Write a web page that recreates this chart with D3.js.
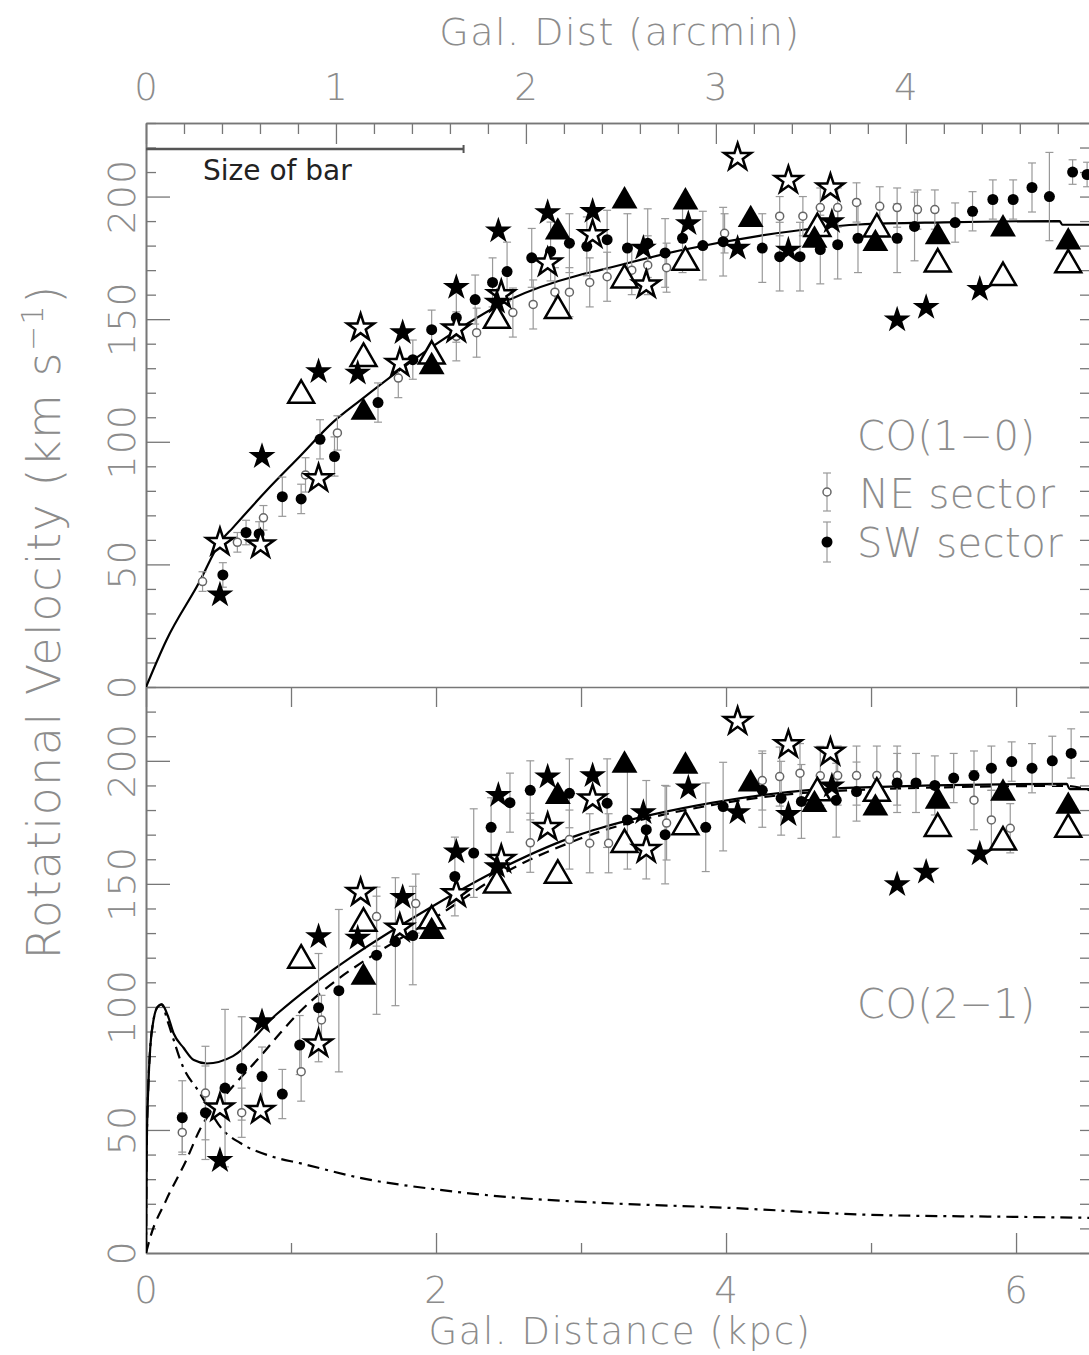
<!DOCTYPE html>
<html><head><meta charset="utf-8">
<script src="https://cdn.jsdelivr.net/npm/d3@7"></script>
<style>body{margin:0;background:#fff}svg{display:block}</style>
</head><body>
<svg id="c" width="1089" height="1355"></svg>
<script>
// ---------------- DATA ----------------
const kpcTicksMajor = [0, 2, 4, 6];
const kpcTicksMinor = [1, 3, 5];
const arcminTickLabels = [0, 1, 2, 3, 4];
const velTickLabels = [0, 50, 100, 150, 200];
const kpcPerArcmin = 1.31;
const xMaxKpc = 6.51;
const velMax = 230;
const barSizeKpc = 2.19;

// [r (kpc), v (km/s), error (km/s)]
const ne10 = [[0.39,43,4],[0.63,59,4],[0.81,69,5],[1.10,86.5,7],[1.32,103.6,7],[1.74,126,8],[2.14,143,10],[2.28,144.5,10],[2.53,152.7,10],[2.67,156,10],[2.82,161,10],[2.92,161,10],[3.06,165,10],[3.18,167.3,10],[3.35,170,10],[3.46,172,12],[3.59,171,10],[3.99,185,8],[4.37,192,8],[4.53,192,8],[4.65,195.5,8],[4.77,195.5,8],[4.90,197.6,8],[5.06,196,8],[5.18,195.5,8],[5.32,194.7,8],[5.44,194.7,8]];
const sw10 = [[0.53,45.7,5],[0.69,63,5],[0.78,62.4,5],[0.94,77.6,8],[1.07,76.7,6],[1.20,101,8],[1.30,94,8],[1.60,116,8],[1.84,133.5,8],[1.97,145.7,8],[2.14,150.6,10],[2.27,158,10],[2.39,165,10],[2.49,169.4,12],[2.66,175,12],[2.79,177.6,12],[2.92,181,12],[3.04,179.7,12],[3.18,182.4,12],[3.32,179,14],[3.46,181,14],[3.58,177,14],[3.70,183,14],[3.84,180,14],[3.98,181.6,14],[4.25,179,14],[4.37,175.5,14],[4.51,175.5,14],[4.65,178.4,14],[4.77,180.4,14],[4.91,183,14],[5.18,183,14],[5.30,187.8,14],[5.58,189.4,8],[5.70,194,8],[5.84,198.8,8],[5.98,198.8,8],[6.11,203.7,10],[6.23,200,18],[6.39,210,5],[6.49,209,5]];
const ne21 = [[0.25,49,8],[0.41,65,19],[0.66,57,10],[1.07,73.7,12],[1.21,94.7,10],[1.59,136.7,12],[1.86,142,12],[2.65,166.7,12],[2.92,168,12],[3.06,166.5,12],[3.19,166.5,12],[3.59,174.7,15],[4.25,192,12],[4.37,193.6,12],[4.51,195,12],[4.65,193.9,12],[4.77,194,12],[4.90,194,12],[5.04,194,12],[5.18,194,12],[5.71,184,12],[5.83,176,12],[5.96,172.6,10]];
const sw21 = [[0.25,55,15],[0.41,57,19],[0.545,67,32],[0.66,75,21],[0.80,71.7,12],[0.94,64.6,10],[1.06,84.5,12],[1.19,99.7,22],[1.33,106.6,33],[1.59,121,24],[1.72,126.5,26],[1.84,129,20],[2.13,153,16],[2.26,162.5,18],[2.38,173,12],[2.51,183,12],[2.65,188,12],[2.92,186.8,14],[3.18,182.8,18],[3.32,176,20],[3.45,172,20],[3.58,170,20],[3.86,173,18],[3.98,181.4,18],[4.25,188,15],[4.38,184.8,15],[4.52,183.5,15],[4.76,184,15],[4.90,187.5,12],[5.18,191,12],[5.31,191,12],[5.44,190,12],[5.57,193,10],[5.71,194,10],[5.83,197,9],[5.97,199.7,8],[6.11,197,10],[6.25,200,10],[6.38,203,10]];

// [r, v] – shared symbols (both panels)
const starFilled = [[0.51,37.6],[0.80,94],[1.19,128.6],[1.46,128],[1.77,144.5],[2.14,163],[2.42,157],[2.43,186],[2.77,193.5],[3.08,194],[3.43,179],[3.74,189],[4.08,179],[4.43,178.2],[4.73,189.8],[5.18,149.7],[5.38,154.8],[5.75,162.2]];
const starOpen = [[0.51,59],[0.79,58],[1.19,85],[1.48,146.5],[1.75,132],[2.14,146],[2.45,160],[2.77,173],[3.08,184.5],[3.45,164],[4.08,216],[4.43,206.6],[4.72,203.5]];
const triFilled = [[1.50,112],[1.97,130.6],[2.84,185.5],[3.30,198.2],[3.72,197.8],[4.17,190.6],[4.61,182.2],[5.03,180.8],[5.46,183.6],[5.91,186.8],[6.36,181.5]];
const triOpen = [[1.07,119],[1.50,134],[1.97,135],[2.42,149.5],[2.84,153.5],[3.30,166],[3.72,173.2],[4.63,187],[5.04,186.8],[5.46,172.5],[5.91,167],[6.36,172.2]];

// model curves [r, v]
const curve10 = [[0,0],[0.14,19],[0.37,43],[0.51,59],[0.60,65],[0.83,80],[1.06,94],[1.29,108],[1.48,117],[1.98,139],[2.51,158],[2.99,168],[3.13,170],[3.68,178],[4.23,184],[4.92,188.6],[5.50,189.5],[6.30,190],[6.32,188.5],[6.51,188.5]];
const total21 = [[0,0],[0.005,42],[0.016,67.6],[0.03,84],[0.05,94],[0.08,100],[0.108,101],[0.15,96.5],[0.19,89.3],[0.26,83.3],[0.33,78.4],[0.42,77],[0.60,80],[0.90,97],[1.15,109],[1.41,120],[1.98,141],[2.44,156],[2.99,170],[3.13,172.6],[3.91,183],[4.83,189],[6.35,190.6],[6.37,188.5],[6.51,188.5]];
const disk21 = [[0,0],[0.03,6.5],[0.14,21.6],[0.28,38],[0.37,50],[0.56,65],[0.79,80],[0.92,89],[1.06,98],[1.22,106.5],[1.34,112],[1.50,118.5],[2.00,136.5],[2.44,153.5],[3.00,168.5],[3.90,182],[4.83,188],[6.35,189.8],[6.51,188]];
const bulge21 = [[0,0],[0.005,42],[0.016,67.6],[0.03,84],[0.05,94],[0.08,100],[0.108,101],[0.15,94],[0.26,75],[0.36,66],[0.53,50],[0.65,44.7],[0.88,39],[1.06,36.5],[1.52,30],[1.98,26],[2.44,23],[3.13,20.4],[4.00,18.4],[5.00,15.5],[5.98,14.7],[6.51,14.3]];

// ---------------- DRAW ----------------
const svg = d3.select("#c");
const FONT = "'DejaVu Sans', sans-serif";
const GRAY = "#8c8c8c";
const AX = "#777";

const x = d3.scaleLinear().domain([0, xMaxKpc]).range([146, 1090]);
const xArc = d3.scaleLinear().domain([0, xMaxKpc / kpcPerArcmin]).range([146, 1090]);
const yTop = d3.scaleLinear().domain([0, velMax]).range([687, 123]);
const yBot = d3.scaleLinear().domain([0, velMax]).range([1253, 687]);

const defs = svg.append("defs");
[["clipTop", yTop], ["clipBot", yBot]].forEach(([id, y]) => {
  defs.append("clipPath").attr("id", id).append("rect")
    .attr("x", x(0)).attr("y", y(velMax)).attr("width", x(xMaxKpc) - x(0)).attr("height", y(0) - y(velMax));
});

function styleAxis(g) {
  g.selectAll("path.domain").attr("stroke", AX).attr("stroke-width", 1.6);
  g.selectAll(".tick line").attr("stroke", AX).attr("stroke-width", 1.3);
  g.selectAll(".tick text").remove();
}
function grayText(sel, size, ls) {
  return sel.attr("font-family", FONT).attr("font-weight", 200).attr("font-size", size)
    .attr("letter-spacing", ls || 0).attr("fill", GRAY);
}

function panelAxes(y) {
  const minor = d3.range(0, velMax + 1, 10).filter(v => v % 50 !== 0);
  svg.append("g").attr("transform", `translate(${x(0)},0)`)
    .call(d3.axisRight(y).tickValues(minor).tickSize(10).tickSizeOuter(0)).call(styleAxis);
  svg.append("g").attr("transform", `translate(${x(0)},0)`)
    .call(d3.axisRight(y).tickValues(velTickLabels).tickSize(24).tickSizeOuter(0)).call(styleAxis);
  svg.append("g").attr("transform", `translate(${x(xMaxKpc)},0)`)
    .call(d3.axisLeft(y).tickValues(d3.range(0, velMax + 1, 10)).tickSize(10).tickSizeOuter(0)).call(styleAxis);
  grayText(svg.append("g").selectAll("text").data(velTickLabels).join("text")
    .attr("transform", d => `translate(135,${y(d)}) rotate(-90)`)
    .attr("text-anchor", "middle"), 38, 1)
    .text(d => d);
}
panelAxes(yTop);
panelAxes(yBot);

// top arcmin axis
const arcMinor = d3.range(0, 5, 0.2).filter(v => Math.abs(v - Math.round(v)) > 1e-6);
svg.append("g").attr("transform", `translate(0,${yTop(velMax)})`)
  .call(d3.axisBottom(xArc).tickValues(arcMinor).tickSize(11).tickSizeOuter(0)).call(styleAxis);
svg.append("g").attr("transform", `translate(0,${yTop(velMax)})`)
  .call(d3.axisBottom(xArc).tickValues(arcminTickLabels).tickSize(21).tickSizeOuter(0)).call(styleAxis);
grayText(svg.append("g").selectAll("text").data(arcminTickLabels).join("text")
  .attr("x", d => xArc(d)).attr("y", 100).attr("text-anchor", "middle"), 37).text(d => d);
grayText(svg.append("text").attr("x", 620).attr("y", 45).attr("text-anchor", "middle"), 38, 1.5)
  .text("Gal. Dist (arcmin)");

// middle boundary (ticks into lower panel)
svg.append("g").attr("transform", `translate(0,${yBot(velMax)})`)
  .call(d3.axisBottom(x).tickValues(kpcTicksMajor.concat(kpcTicksMinor)).tickSize(20).tickSizeOuter(0)).call(styleAxis);
// bottom axis
svg.append("g").attr("transform", `translate(0,${yBot(0)})`)
  .call(d3.axisTop(x).tickValues(kpcTicksMajor).tickSize(20).tickSizeOuter(0)).call(styleAxis);
svg.append("g").attr("transform", `translate(0,${yBot(0)})`)
  .call(d3.axisTop(x).tickValues(kpcTicksMinor).tickSize(10).tickSizeOuter(0)).call(styleAxis);
grayText(svg.append("g").selectAll("text").data(kpcTicksMajor).join("text")
  .attr("x", d => x(d)).attr("y", 1303).attr("text-anchor", "middle"), 37).text(d => d);
grayText(svg.append("text").attr("x", 620).attr("y", 1344).attr("text-anchor", "middle"), 37, 1.6)
  .text("Gal. Distance (kpc)");

// y title
const yt = grayText(svg.append("text").attr("transform", "translate(60,622) rotate(-90)")
  .attr("text-anchor", "middle"), 46, 1.5);
yt.append("tspan").text("Rotational Velocity (km s");
yt.append("tspan").attr("font-size", 30).attr("dy", -17).text("−1");
yt.append("tspan").attr("dy", 17).text(")");

// size of bar
svg.append("line").attr("x1", x(0)).attr("x2", x(barSizeKpc)).attr("y1", 149).attr("y2", 149)
  .attr("stroke", "#555").attr("stroke-width", 2.5);
svg.append("line").attr("x1", x(barSizeKpc)).attr("x2", x(barSizeKpc)).attr("y1", 145).attr("y2", 153)
  .attr("stroke", "#555").attr("stroke-width", 2);
svg.append("text").attr("x", 203).attr("y", 180).attr("font-family", FONT).attr("font-size", 28)
  .attr("fill", "#222").text("Size of bar");

// panels content
const starSym = d3.symbol().type(d3.symbolStar).size(225);
const triSym = d3.symbol().type(d3.symbolTriangle).size(290);

function panel(y, clipId, ne, sw, curves) {
  const g = svg.append("g").attr("clip-path", `url(#${clipId})`);
  curves.forEach(([pts, dash]) => {
    g.append("path").datum(pts)
      .attr("d", d3.line().x(d => x(d[0])).y(d => y(d[1])).curve(d3.curveMonotoneX))
      .attr("fill", "none").attr("stroke", "#000").attr("stroke-width", 2.2)
      .attr("stroke-dasharray", dash);
  });
  function errBars(data) {
    const eg = g.append("g").attr("stroke", "#999").attr("stroke-width", 1.2);
    eg.selectAll("line.v").data(data).join("line")
      .attr("x1", d => x(d[0])).attr("x2", d => x(d[0]))
      .attr("y1", d => y(d[1] - d[2])).attr("y2", d => y(d[1] + d[2]));
    eg.selectAll("line.t").data(data).join("line")
      .attr("x1", d => x(d[0]) - 4).attr("x2", d => x(d[0]) + 4)
      .attr("y1", d => y(d[1] + d[2])).attr("y2", d => y(d[1] + d[2]));
    eg.selectAll("line.b").data(data).join("line")
      .attr("x1", d => x(d[0]) - 4).attr("x2", d => x(d[0]) + 4)
      .attr("y1", d => y(d[1] - d[2])).attr("y2", d => y(d[1] - d[2]));
  }
  errBars(ne);
  errBars(sw);
  g.append("g").selectAll("circle").data(ne).join("circle")
    .attr("cx", d => x(d[0])).attr("cy", d => y(d[1])).attr("r", 4)
    .attr("fill", "#fff").attr("stroke", "#666").attr("stroke-width", 1.5);
  g.append("g").selectAll("circle").data(sw).join("circle")
    .attr("cx", d => x(d[0])).attr("cy", d => y(d[1])).attr("r", 5.5).attr("fill", "#000");
  g.append("g").selectAll("path").data(triOpen).join("path")
    .attr("transform", d => `translate(${x(d[0])},${y(d[1])})`).attr("d", triSym)
    .attr("fill", "#fff").attr("stroke", "#000").attr("stroke-width", 2.5);
  g.append("g").selectAll("path").data(starOpen).join("path")
    .attr("transform", d => `translate(${x(d[0])},${y(d[1])})`).attr("d", starSym)
    .attr("fill", "#fff").attr("stroke", "#000").attr("stroke-width", 2.5);
  g.append("g").selectAll("path").data(triFilled).join("path")
    .attr("transform", d => `translate(${x(d[0])},${y(d[1])})`).attr("d", triSym).attr("fill", "#000");
  g.append("g").selectAll("path").data(starFilled).join("path")
    .attr("transform", d => `translate(${x(d[0])},${y(d[1])})`).attr("d", starSym).attr("fill", "#000");
}
panel(yTop, "clipTop", ne10, sw10, [[curve10, null]]);
panel(yBot, "clipBot", ne21, sw21, [[bulge21, "12,6,3,6"], [disk21, "11,7"], [total21, null]]);

// labels & legend
function label(t, xx, yy) {
  grayText(svg.append("text").attr("x", xx).attr("y", yy), 40, 0.5).text(t);
}
label("CO(1−0)", 857, 450);
label("NE sector", 859, 508);
label("SW sector", 857, 557);
label("CO(2−1)", 857, 1018);
const lg = svg.append("g").attr("stroke", "#999").attr("stroke-width", 1.2);
[[492, 19], [542, 20]].forEach(([cy, e]) => {
  lg.append("line").attr("x1", 827).attr("x2", 827).attr("y1", cy - e).attr("y2", cy + e);
  lg.append("line").attr("x1", 823).attr("x2", 831).attr("y1", cy - e).attr("y2", cy - e);
  lg.append("line").attr("x1", 823).attr("x2", 831).attr("y1", cy + e).attr("y2", cy + e);
});
svg.append("circle").attr("cx", 827).attr("cy", 492).attr("r", 4).attr("fill", "#fff").attr("stroke", "#666").attr("stroke-width", 1.5);
svg.append("circle").attr("cx", 827).attr("cy", 542).attr("r", 5.5).attr("fill", "#000");
</script>
</body></html>
